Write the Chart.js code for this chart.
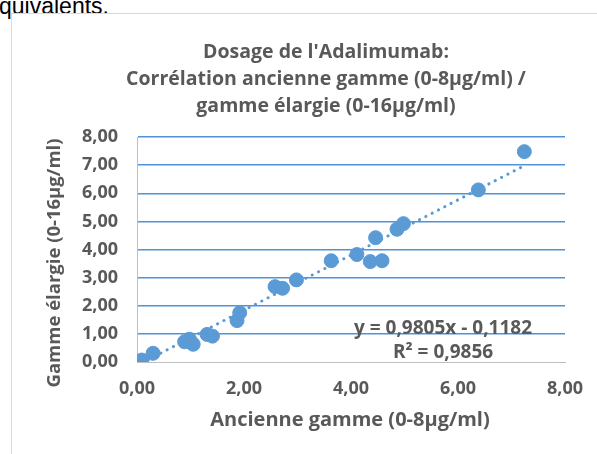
<!DOCTYPE html>
<html>
<head>
<meta charset="utf-8">
<script src="https://cdn.jsdelivr.net/npm/chart.js@4"></script>
<style>
  html, body { margin: 0; padding: 0; background: #fff; overflow: hidden; width: 597px; height: 454px; }
  .doc-text { position: absolute; left: -1px; top: -5px; font: 23px/23px "Liberation Sans", Arial, sans-serif; color: #000; }
  .chart-box { position: absolute; left: 11px; top: 13px; width: 640px; height: 460px; border: 1px solid #d9d9d9; background: #fff; }
  canvas { display: block; }
</style>
</head>
<body>
<div class="doc-text">quivalents.</div>
<div class="chart-box">
  <canvas id="chart" width="629" height="441"></canvas>
</div>
<script>
// valeurs
const ancienneGamme = [0.09, 0.30, 0.89, 0.98, 1.05, 1.31, 1.41, 1.87, 1.92, 2.58, 2.72, 2.98, 3.63, 4.11, 4.36, 4.58, 4.46, 4.86, 4.98, 6.38, 7.24]
const gammeElargie = [0.07, 0.31, 0.72, 0.81, 0.63, 0.98, 0.92, 1.47, 1.75, 2.68, 2.62, 2.92, 3.60, 3.82, 3.57, 3.60, 4.42, 4.72, 4.92, 6.12, 7.48]
const trendX = [0.09, 7.24]
const trendY = [-0.03, 6.98]
const yTicks = [0, 1, 2, 3, 4, 5, 6, 7, 8]
const xTicks = [0, 2, 4, 6, 8]
const titleLines = ["Dosage de l'Adalimumab:", "Corrélation ancienne gamme (0-8µg/ml) /", "gamme élargie (0-16µg/ml)"]
const xTitle = 'Ancienne gamme (0-8µg/ml)'
const yTitle = 'Gamme élargie (0-16µg/ml)'
const equation = ['y = 0,9805x - 0,1182', 'R² = 0,9856']

const textColor = '#595959'
const blue = '#5b9bd5'
const gridBlue = '#4f93d8'
const axisGray = '#bfbfbf'
const fontFamily = '"Open Sans", sans-serif'

const fmt = v => v.toFixed(2).replace('.', ',')

const textPlugin = {
  id: 'texts',
  afterDraw(chart) {
    const ctx = chart.ctx
    ctx.save()
    ctx.fillStyle = textColor
    ctx.textAlign = 'center'
    ctx.textBaseline = 'middle'

    ctx.font = 'bold 19.5px ' + fontFamily
    titleLines.forEach((line, i) => ctx.fillText(line, 314, 38 + i * 27))

    ctx.font = 'bold 20px ' + fontFamily
    ctx.fillText(xTitle, 338, 406)

    ctx.save()
    ctx.font = 'bold 18.5px ' + fontFamily
    ctx.translate(43, 249)
    ctx.rotate(-Math.PI / 2)
    ctx.fillText(yTitle, 0, 0)
    ctx.restore()

    const xs = chart.scales.x, ys = chart.scales.y
    ctx.font = 'bold 19px ' + fontFamily
    ctx.fillText(equation[0], xs.getPixelForValue(5.72), ys.getPixelForValue(1.19))
    ctx.fillText(equation[1], xs.getPixelForValue(5.72), ys.getPixelForValue(0.33))
    ctx.restore()
  }
}

new Chart(document.getElementById('chart'), {
  type: 'scatter',
  data: {
    datasets: [{
      label: 'Dosage',
      data: ancienneGamme.map((x, i) => ({ x: x, y: gammeElargie[i] })),
      backgroundColor: blue,
      borderColor: blue,
      pointRadius: 7,
      pointHoverRadius: 7,
      order: 0
    }, {
      type: 'line',
      label: 'Tendance',
      data: trendX.map((x, i) => ({ x: x, y: trendY[i] })),
      borderColor: blue,
      borderWidth: 3,
      borderDash: [0.1, 7],
      borderCapStyle: 'round',
      pointRadius: 0,
      fill: false,
      order: 1
    }]
  },
  options: {
    responsive: false,
    animation: false,
    devicePixelRatio: 1,
    layout: { padding: { top: 123, right: 76, left: 0, bottom: 0 } },
    plugins: {
      legend: { display: false },
      tooltip: { enabled: false },
      title: { display: false }
    },
    scales: {
      x: {
        type: 'linear',
        min: 0,
        max: 8,
        afterBuildTicks: scale => { scale.ticks = xTicks.map(v => ({ value: v })) },
        afterFit: scale => { scale.height = 93 },
        grid: { display: false, drawTicks: false },
        border: { display: true, color: axisGray, width: 1, z: 1 },
        ticks: {
          padding: 16,
          color: textColor,
          font: { family: fontFamily, size: 18, weight: 'bold' },
          callback: v => fmt(v)
        }
      },
      y: {
        type: 'linear',
        min: 0,
        max: 8,
        afterBuildTicks: scale => { scale.ticks = yTicks.map(v => ({ value: v })) },
        afterFit: scale => { scale.width = 125 },
        grid: {
          drawTicks: false,
          lineWidth: c => c.index === 0 ? 1 : 1.5,
          color: c => c.index === 0 ? axisGray : gridBlue
        },
        border: { display: true, color: axisGray, width: 1 },
        ticks: {
          padding: 19,
          color: textColor,
          font: { family: fontFamily, size: 18, weight: 'bold' },
          callback: v => fmt(v)
        }
      }
    }
  },
  plugins: [textPlugin]
})
</script>
</body>
</html>
